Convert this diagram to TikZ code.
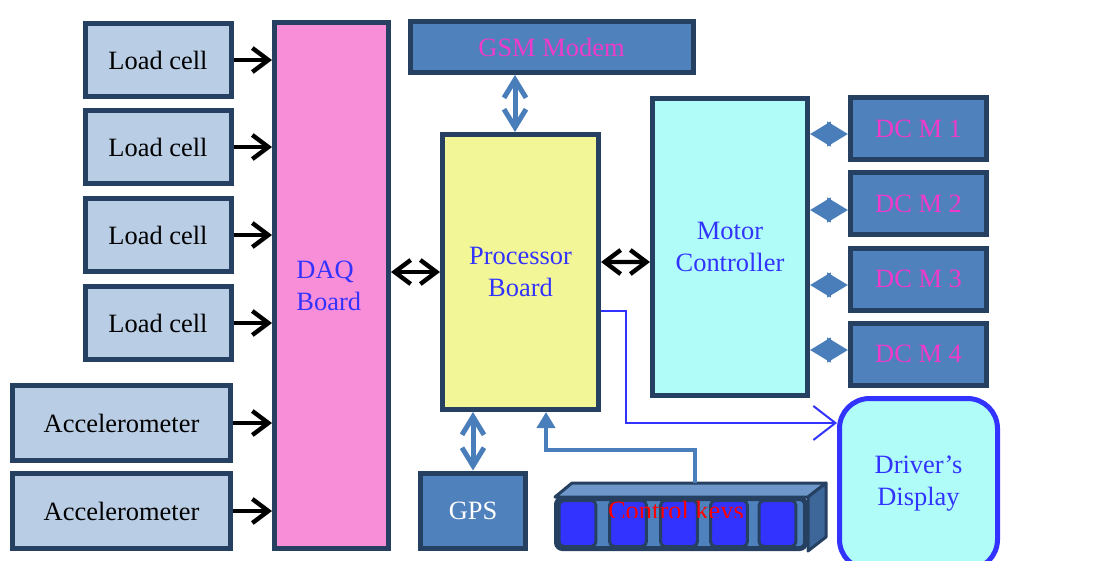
\documentclass[tikz,border=0pt]{standalone}
\usepackage{fontspec}
\setmainfont{Liberation Serif}
\usetikzlibrary{arrows.meta}

\definecolor{navy}{HTML}{254061}
\definecolor{sensorfill}{HTML}{B9CDE5}
\definecolor{daqpink}{HTML}{F98ED8}
\definecolor{procyellow}{HTML}{F2F697}
\definecolor{mcyan}{HTML}{AFFCF8}
\definecolor{steel}{HTML}{4F81BD}
\definecolor{steelarr}{HTML}{4A7EBB}
\definecolor{keytop}{HTML}{6F97CA}
\definecolor{keyside}{HTML}{3D6699}
\definecolor{keyblue}{HTML}{3333FF}
\definecolor{txtblue}{HTML}{3333FF}
\definecolor{txtmag}{HTML}{EE3BCB}

\begin{document}
\begin{tikzpicture}[x=0.025cm,y=-0.025cm,
    every node/.style={font=\fontsize{18.8}{22.8}\selectfont},
    sz/.style 2 args={minimum width=#1*0.025cm-0.125cm, minimum height=#2*0.025cm-0.125cm},
    box/.style={draw=navy, line width=0.125cm, inner sep=0pt},
    sensor/.style={box, fill=sensorfill, sz={151}{78}},
    dcbox/.style={box, fill=steel, text=txtmag, sz={141}{67}},
    blkarr/.style={black, line width=0.11cm, -{Straight Barb[length=0.4cm,width=0.6cm]}},
    blkdbl/.style={black, line width=0.11cm, {Straight Barb[length=0.4cm,width=0.6cm]}-{Straight Barb[length=0.4cm,width=0.6cm]}},
    stdbl/.style={steelarr, line width=0.125cm, {Straight Barb[length=0.45cm,width=0.55cm]}-{Straight Barb[length=0.45cm,width=0.55cm]}},
    diamond arr/.style={steelarr, line width=0.1cm, {Triangle[length=0.52cm,width=0.6cm]}-{Triangle[length=0.52cm,width=0.6cm]}}]

\useasboundingbox (0,0) rectangle (1099,560);

% sensors on the left
\foreach \i/\y in {1/60,2/147,3/235,4/323}
    \node[sensor] (lc\i) at (158,\y) {Load cell};
\node[sensor, sz={223}{80}] (acc1) at (121.5,423) {Accelerometer};
\node[sensor, sz={223}{80}] (acc2) at (121.5,511) {Accelerometer};

% main boards
\node[box, fill=daqpink, sz={119}{531}, text=txtblue, align=left, text width=1.75cm] (daq) at (331.5,285.5) {DAQ\\Board};
\node[box, fill=procyellow, sz={161}{280}, text=txtblue, align=center] (proc) at (520.5,272) {Processor\\Board};
\node[box, fill=mcyan, sz={160}{302}, text=txtblue, align=center] (mc) at (730,247) {Motor\\Controller};
\node[box, fill=steel, sz={288}{56}, text=txtmag] (gsm) at (551.5,47) {GSM Modem};
\node[box, fill=steel, sz={110}{80}, text=white] (gps) at (473,510.5) {GPS};

% motors
\foreach \i/\y in {1/128.5,2/203.5,3/279,4/354}
    \node[dcbox] (dcm\i) at (918.5,\y) {DC M \i};

% display
\node[draw=txtblue, line width=0.125cm, rounded corners=0.75cm, fill=mcyan, sz={163}{176}, text=txtblue, align=center] (drv) at (918.5,484) {Driver's\\Display};

% control keys, drawn as a box
\filldraw[fill=keytop, draw=navy, line width=0.075cm, line join=round] (555,497) -- (572,483) -- (826,483) -- (808,497) -- cycle;
\filldraw[fill=keyside, draw=navy, line width=0.075cm, line join=round] (808,497) -- (826,483) -- (826,537) -- (808,551) -- cycle;
\node[box, fill=steel, rounded corners=0.15cm, sz={254}{55}] (keys) at (681,523.5) {};
\foreach \kx [count=\k] in {577.5,628,679,729,777.5}
    \node[draw=navy, line width=0.075cm, fill=keyblue, rounded corners=0.12cm, minimum width=0.92cm, minimum height=1.15cm, inner sep=0pt] (key\k) at (\kx,523.5) {};
\begin{scope}
    \clip (550,480) rectangle (830,517);
    \node[text=red, anchor=base] (keylbl) at (676,519.5) {Control keys};
\end{scope}

% sensor inputs
\foreach \i in {1,2,3,4}
    \draw[blkarr] (lc\i) -- (lc\i -| daq.west);
\draw[blkarr] (acc1) -- (acc1 -| daq.west);
\draw[blkarr] (acc2) -- (acc2 -| daq.west);

% board links
\draw[blkdbl] (daq.east |- proc.west) -- (proc.west);
\draw[blkdbl] ([yshift=0.25cm]proc.east) -- ([yshift=-0.375cm]mc.west);

\coordinate (gsmp) at ([xshift=-0.1375cm]proc.north);
\draw[stdbl] (gsmp) -- (gsmp |- gsm.south);
\draw[stdbl] (gps.north) -- (gps.north |- proc.south);

% motor links
\foreach \i/\dy in {1/5.5,2/6.5,3/6,4/-4} {
    \coordinate (dm\i) at ([yshift=-\dy*0.025cm]dcm\i.west);
    \draw[diamond arr] (dm\i -| mc.east) -- (dm\i);
}

% keys to processor
\coordinate (kt) at (695,483);
\draw[steelarr, line width=0.1cm, -{Triangle[length=0.4cm,width=0.45cm]}] (kt) -- ++(0,-33) -| ([xshift=0.6375cm]proc.south);

% processor to display
\draw[txtblue, line width=0.05cm, -{Straight Barb[length=0.55cm,width=0.85cm]}] ([yshift=-0.975cm]proc.east) -- ++(25,0) |- ([yshift=1.525cm]drv.west);

\end{tikzpicture}
\end{document}
